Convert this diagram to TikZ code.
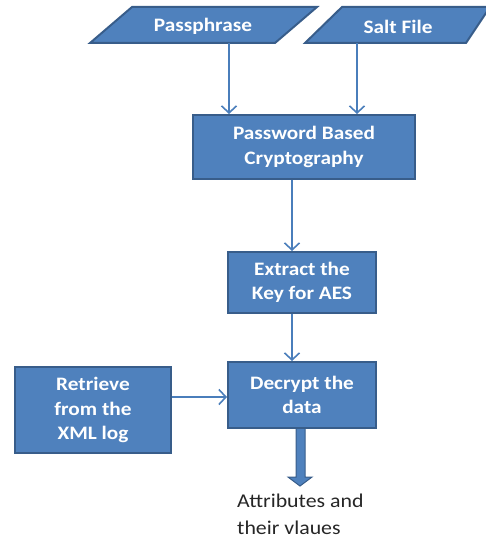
\documentclass[tikz,border=0pt]{standalone}
\usepackage{fontspec}
\setmainfont[FakeStretch=1.12]{Carlito}
\usetikzlibrary{arrows.meta}
\definecolor{boxfill}{HTML}{4F81BD}
\definecolor{boxline}{HTML}{385D8A}
\definecolor{arrline}{HTML}{4A7EBB}
\definecolor{txtgray}{HTML}{262626}
\tikzset{
  box/.style={draw=boxline, fill=boxfill, line width=2pt, rectangle, align=center,
    text=white, font=\bfseries\fontsize{19}{24.5}\selectfont, inner sep=0pt},
  para/.style={draw=boxline, fill=boxfill, line width=2pt, line join=miter},
  ptext/.style={text=white, font=\bfseries\fontsize{19}{24}\selectfont, inner sep=0pt},
  arr/.style={draw=arrline, line width=1.6pt, -{Straight Barb[length=7pt,width=15pt,line width=1.6pt]}},
  bigarr/.style={draw=boxline, fill=boxfill, line width=1pt, line join=miter},
  outtext/.style={text=txtgray, font=\fontsize{19.5}{27}\selectfont, align=left, inner sep=0pt}
}
\begin{document}
\begin{tikzpicture}[x=1pt,y=-1pt]
\useasboundingbox (0,0) rectangle (486,535);
\clip (0,0) rectangle (486,535);
% input parallelograms
\draw[para] (132,7) -- (317,7) -- (275,43) -- (90,43) -- cycle;
\node[ptext] (pass) at (203,26) {Passphrase};
\draw[para] (342,7) -- (490,7) -- (466,43) -- (305,43) -- cycle;
\node[ptext] (salt) at (398,27) {Salt File};
\coordinate (passout) at (229,43);
\coordinate (saltout) at (357,43);
% boxes
\node[box, minimum width=222pt, minimum height=64pt] (pbc) at (304,147) {Password Based\\Cryptography};
\node[box, minimum width=148pt, minimum height=61pt] (ext) at (302,282.5) {Extract the\\Key for AES};
\node[box, minimum width=148pt, minimum height=66pt] (dec) at (302,395) {Decrypt the\\data};
\node[box, minimum width=156pt, minimum height=86pt] (ret) at (93,410) {Retrieve\\from the\\XML log};
\coordinate (colx) at (292,0);
% connectors
\draw[arr] (passout) -- (passout |- pbc.north);
\draw[arr] (saltout) -- (saltout |- pbc.north);
\draw[arr] (pbc.south -| colx) -- (ext.north -| colx);
\draw[arr] (ext.south -| colx) -- (dec.north -| colx);
\draw[arr] (ret.east |- 0,397) -- (dec.west |- 0,397);
% thick output arrow
\coordinate (bt) at (300.5,429);
\draw[bigarr] ([xshift=-4.5pt]bt) -- ++(0,48) -- ++(-8,0) -- (300,486) -- (312,477) -- ([xshift=4.5pt]bt |- 0,477) -- ([xshift=4.5pt]bt) ;
\node[outtext, anchor=north west] (out) at (237,494) {Attributes and\\their vlaues};
\end{tikzpicture}
\end{document}
